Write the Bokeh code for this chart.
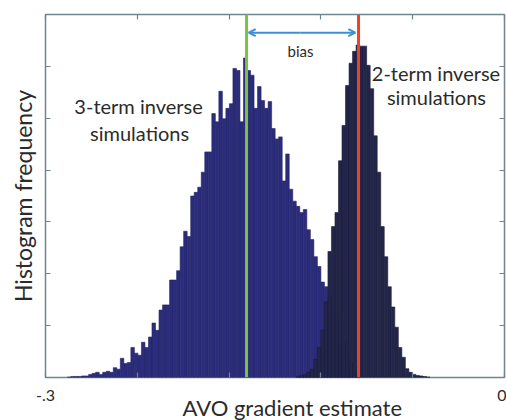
import numpy as np
from bokeh.plotting import figure
from bokeh.models import Range1d, LinearAxis, FixedTicker, Label, Arrow, OpenHead, Span, Title
from bokeh.embed import file_html
from bokeh.resources import INLINE

# ---- data ----
bin_width = 0.0023
blue_start = -0.2856
blue_counts = [1, 2, 2, 2, 3, 3, 6, 8, 10, 6, 10, 12, 10, 19, 16, 37, 27, 29, 58, 47,
               43, 68, 58, 78, 105, 91, 130, 140, 140, 188, 188, 206, 252, 282, 272, 350,
               357, 367, 396, 435, 435, 509, 493, 552, 499, 519, 528, 596, 592, 493, 616,
               592, 583, 519, 561, 534, 519, 532, 480, 460, 464, 379, 431, 363, 340, 330,
               318, 324, 285, 266, 233, 214, 184, 175, 155, 136, 113, 87, 68, 49, 29, 16, 8]
navy_start = -0.2856 + 65 * 0.0023
navy_counts = [2, 4, 6, 10, 16, 35, 58, 91, 146, 243, 291, 318, 418, 486, 563, 606, 629,
               641, 639, 639, 602, 557, 466, 396, 291, 233, 175, 136, 97, 58, 39, 17, 10,
               6, 4, 3, 2, 1]
three_term_mean = -0.1686
two_term_mean = -0.0954
x_ticks = [-0.3, 0.0]
x_tick_labels = {-0.3: "-.3", 0.0: "0"}
x_minor = [-0.24, -0.18, -0.12, -0.06]
y_ticks = [100, 200, 300, 400, 500, 600]

FONT = "Lato"
TXT = "#2b2b2b"
FRAME = "#6f8590"

p = figure(width=506, height=420, output_backend="svg", toolbar_location=None,
           x_range=Range1d(-0.3, 0.0), y_range=Range1d(0, 700),
           min_border_left=45, min_border_right=2, min_border_top=14, min_border_bottom=43,
           x_axis_location=None, y_axis_location=None)
p.grid.visible = False
p.outline_line_color = FRAME
p.outline_line_width = 1.5
p.background_fill_color = "white"
p.border_fill_color = "white"

bl = blue_start + bin_width * np.arange(len(blue_counts))
p.quad(left=bl, right=bl + bin_width, bottom=0, top=blue_counts,
       fill_color="#2b2d7c", line_color="#232466", line_width=0.6)
nl = navy_start + bin_width * np.arange(len(navy_counts))
p.quad(left=nl, right=nl + bin_width, bottom=0, top=navy_counts,
       fill_color="#23264a", line_color="#1a1c36", line_width=0.6)

p.add_layout(Span(location=three_term_mean, dimension="height", line_color="#7cc242", line_width=3))
p.add_layout(Span(location=two_term_mean, dimension="height", line_color="#e8432d", line_width=3))


def mk_axis(kind, loc, labels, axis_label=None, label_standoff=0):
    if kind == "x":
        ax = LinearAxis(ticker=FixedTicker(ticks=x_ticks, minor_ticks=x_minor))
    else:
        ax = LinearAxis(ticker=FixedTicker(ticks=y_ticks, minor_ticks=[]))
    ax.axis_line_color = None
    ax.major_tick_in = 5
    ax.major_tick_out = 0
    ax.minor_tick_in = 5
    ax.minor_tick_out = 0
    ax.major_tick_line_color = FRAME
    ax.minor_tick_line_color = FRAME
    ax.major_tick_line_width = 1.2
    ax.minor_tick_line_width = 1.2
    if labels:
        ax.major_label_overrides = x_tick_labels
        ax.major_label_text_font = FONT
        ax.major_label_text_font_size = "16px"
        ax.major_label_text_color = TXT
        ax.major_label_standoff = 12
    else:
        ticks = x_ticks if kind == "x" else y_ticks
        ax.major_label_overrides = {t: "" for t in ticks}
        ax.major_label_standoff = 0
    if axis_label:
        ax.axis_label = axis_label
        ax.axis_label_text_font = FONT
        ax.axis_label_text_font_size = "23px"
        ax.axis_label_text_font_style = "normal"
        ax.axis_label_text_color = TXT
        ax.axis_label_standoff = label_standoff
    p.add_layout(ax, loc)
    return ax


mk_axis("x", "below", True)
mk_axis("x", "above", False)
mk_axis("y", "left", False, "Histogram frequency", 9)
mk_axis("y", "right", False)

p.add_layout(Title(text="AVO gradient estimate", text_font=FONT, text_font_size="22px",
                   text_font_style="normal", text_color=TXT, align="left", offset=137,
                   standoff=-23), "below")

def lab(x, y, t, size, color=TXT):
    p.add_layout(Label(x=x, y=y, text=t, text_font=FONT, text_font_size=size,
                       text_color=color, text_align="center", text_baseline="middle"))

lab(-0.2392, 524, "3-term inverse", "20px")
lab(-0.2385, 472, "simulations", "20px")
lab(-0.0448, 588, "2-term inverse", "20px")
lab(-0.0445, 540, "simulations", "20px")
lab(-0.1333, 630, "bias", "15px")

p.add_layout(Arrow(x_start=-0.1335, y_start=665, x_end=-0.1672, y_end=665,
                   line_color="#3d8fd6", line_width=2,
                   end=OpenHead(size=7, line_color="#3d8fd6", line_width=2)))
p.add_layout(Arrow(x_start=-0.1335, y_start=665, x_end=-0.0975, y_end=665,
                   line_color="#3d8fd6", line_width=2,
                   end=OpenHead(size=7, line_color="#3d8fd6", line_width=2)))

open("out.html", "w").write(file_html(p, INLINE))
